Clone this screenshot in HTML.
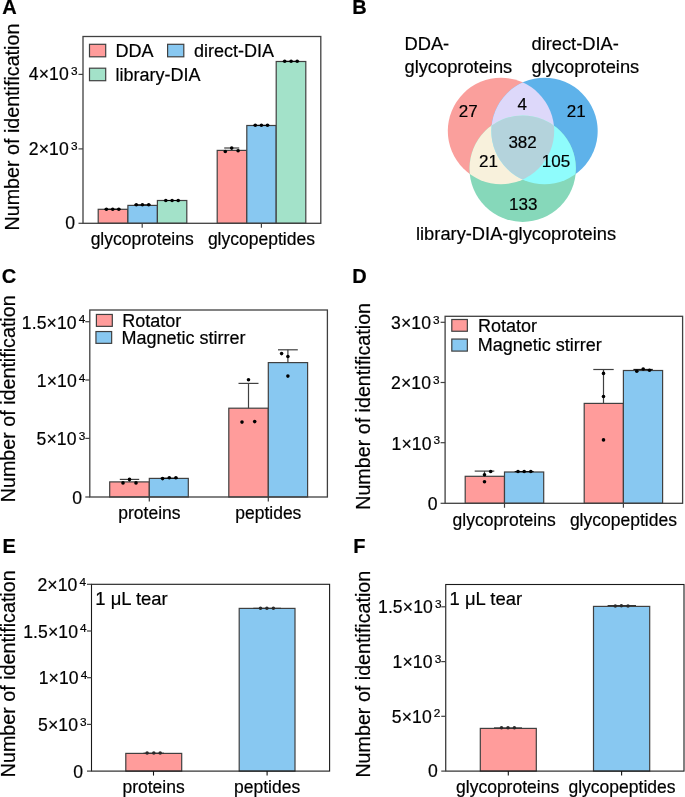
<!DOCTYPE html>
<html><head><meta charset="utf-8"><style>
html,body{margin:0;padding:0;background:#fff;}
svg{display:block;will-change:transform;}
text{font-family:"Liberation Sans", sans-serif;fill:#000;stroke:#000;stroke-width:0.2px;}
</style></head><body>
<svg width="685" height="797" viewBox="0 0 685 797">
<rect width="685" height="797" fill="#fff"/>
<text x="2.2" y="13.9" font-size="20" text-anchor="start" font-weight="bold" >A</text>
<text transform="translate(18.6,230.5) rotate(-90)" x="0" y="0" font-size="19.7">Number of identification</text>
<rect x="98.2" y="209.3" width="29.599999999999994" height="14.0" fill="#FF9C9B" stroke="#404040" stroke-width="1.2"/>
<rect x="127.9" y="205.4" width="29.5" height="17.900000000000006" fill="#88C8F1" stroke="#404040" stroke-width="1.2"/>
<rect x="157.4" y="200.5" width="29.400000000000006" height="22.80000000000001" fill="#A3E2C9" stroke="#404040" stroke-width="1.2"/>
<rect x="217.2" y="150.4" width="29.600000000000023" height="72.9" fill="#FF9C9B" stroke="#404040" stroke-width="1.2"/>
<rect x="246.8" y="125.5" width="29.399999999999977" height="97.80000000000001" fill="#88C8F1" stroke="#404040" stroke-width="1.2"/>
<rect x="276.2" y="61.5" width="29.600000000000023" height="161.8" fill="#A3E2C9" stroke="#404040" stroke-width="1.2"/>
<line x1="104.4" y1="209.2" x2="120.8" y2="209.2" stroke="#000" stroke-width="1.0"/>
<circle cx="106.4" cy="209.2" r="1.8" fill="#000"/>
<circle cx="112.7" cy="209.2" r="1.8" fill="#000"/>
<circle cx="118.8" cy="209.2" r="1.8" fill="#000"/>
<line x1="134.3" y1="204.8" x2="150.7" y2="204.8" stroke="#000" stroke-width="1.0"/>
<circle cx="136.3" cy="204.8" r="1.8" fill="#000"/>
<circle cx="142.4" cy="204.8" r="1.8" fill="#000"/>
<circle cx="148.7" cy="204.8" r="1.8" fill="#000"/>
<line x1="163.8" y1="200.5" x2="180.2" y2="200.5" stroke="#000" stroke-width="1.0"/>
<circle cx="165.8" cy="200.5" r="1.8" fill="#000"/>
<circle cx="172.1" cy="200.5" r="1.8" fill="#000"/>
<circle cx="178.2" cy="200.5" r="1.8" fill="#000"/>
<line x1="253.3" y1="125.3" x2="269.5" y2="125.3" stroke="#000" stroke-width="1.0"/>
<circle cx="255.3" cy="125.3" r="1.8" fill="#000"/>
<circle cx="261.4" cy="125.3" r="1.8" fill="#000"/>
<circle cx="267.5" cy="125.3" r="1.8" fill="#000"/>
<line x1="282.7" y1="61.3" x2="299.2" y2="61.3" stroke="#000" stroke-width="1.0"/>
<circle cx="284.7" cy="61.3" r="1.8" fill="#000"/>
<circle cx="291.1" cy="61.3" r="1.8" fill="#000"/>
<circle cx="297.2" cy="61.3" r="1.8" fill="#000"/>
<line x1="231.7" y1="150.4" x2="231.7" y2="148.0" stroke="#404040" stroke-width="1.2"/>
<line x1="224.2" y1="148.0" x2="239.2" y2="148.0" stroke="#404040" stroke-width="1.2"/>
<circle cx="225.3" cy="151.5" r="1.8" fill="#000"/>
<circle cx="231.7" cy="148.0" r="1.8" fill="#000"/>
<circle cx="238.1" cy="150.7" r="1.8" fill="#000"/>
<rect x="83" y="36.5" width="237.8" height="186.8" fill="none" stroke="#404040" stroke-width="1.3"/>
<line x1="142.2" y1="223.3" x2="142.2" y2="227.8" stroke="#404040" stroke-width="1.2"/>
<line x1="261.4" y1="223.3" x2="261.4" y2="227.8" stroke="#404040" stroke-width="1.2"/>
<line x1="78.5" y1="223.3" x2="83" y2="223.3" stroke="#404040" stroke-width="1.2"/>
<text x="75.0" y="229.3" font-size="17.6" text-anchor="end" font-weight="normal" >0</text>
<line x1="78.5" y1="148.9" x2="83" y2="148.9" stroke="#404040" stroke-width="1.2"/>
<text x="28.85" y="154.9" font-size="17.6" letter-spacing="0.1">2×10<tspan dx="2.0" dy="-5.2" font-size="11.8">3</tspan></text>
<line x1="78.5" y1="74.4" x2="83" y2="74.4" stroke="#404040" stroke-width="1.2"/>
<text x="28.85" y="80.4" font-size="17.6" letter-spacing="0.1">4×10<tspan dx="2.0" dy="-5.2" font-size="11.8">3</tspan></text>
<text x="142.2" y="245.0" font-size="17.5" text-anchor="middle" font-weight="normal" >glycoproteins</text>
<text x="261.4" y="245.0" font-size="17.5" text-anchor="middle" font-weight="normal" >glycopeptides</text>
<rect x="89.5" y="44.3" width="16.2" height="12.5" fill="#FF9C9B" stroke="#404040" stroke-width="1.2"/>
<text x="115.5" y="56.8" font-size="18" text-anchor="start" font-weight="normal" >DDA</text>
<rect x="167.6" y="44.3" width="16.2" height="12.5" fill="#88C8F1" stroke="#404040" stroke-width="1.2"/>
<text x="194.0" y="56.8" font-size="18" text-anchor="start" font-weight="normal" >direct-DIA</text>
<rect x="89.5" y="68.2" width="16.2" height="12.5" fill="#A3E2C9" stroke="#404040" stroke-width="1.2"/>
<text x="115.5" y="80.5" font-size="18" text-anchor="start" font-weight="normal" >library-DIA</text>
<text x="352.2" y="13.8" font-size="20" text-anchor="start" font-weight="bold" >B</text>
<defs><clipPath id="ca"><circle cx="501.0" cy="131.0" r="53.2"/></clipPath><clipPath id="cb"><circle cx="544.5" cy="131.0" r="53.2"/></clipPath><clipPath id="cc"><circle cx="522.7" cy="168.7" r="53.2"/></clipPath></defs>
<circle cx="501.0" cy="131.0" r="53.2" fill="#FA9F9C"/>
<circle cx="544.5" cy="131.0" r="53.2" fill="#5EB2EA"/>
<circle cx="522.7" cy="168.7" r="53.2" fill="#86D8BA"/>
<g clip-path="url(#ca)"><circle cx="544.5" cy="131.0" r="53.2" fill="#DDD8FA"/></g>
<g clip-path="url(#ca)"><circle cx="522.7" cy="168.7" r="53.2" fill="#F8F1DC"/></g>
<g clip-path="url(#cb)"><circle cx="522.7" cy="168.7" r="53.2" fill="#8FFCFC"/></g>
<g clip-path="url(#ca)"><g clip-path="url(#cb)"><circle cx="522.7" cy="168.7" r="53.2" fill="#B4D3DC"/></g></g>
<text x="468.3" y="116.5" font-size="17" text-anchor="middle" font-weight="normal" >27</text>
<text x="522.2" y="110.0" font-size="17" text-anchor="middle" font-weight="normal" >4</text>
<text x="576.2" y="116.5" font-size="17" text-anchor="middle" font-weight="normal" >21</text>
<text x="522.6" y="147.6" font-size="17" text-anchor="middle" font-weight="normal" >382</text>
<text x="488.5" y="166.8" font-size="17" text-anchor="middle" font-weight="normal" >21</text>
<text x="556.0" y="166.8" font-size="17" text-anchor="middle" font-weight="normal" >105</text>
<text x="523.2" y="210.0" font-size="17" text-anchor="middle" font-weight="normal" >133</text>
<text x="404.5" y="50.1" font-size="18.3" text-anchor="start" font-weight="normal" >DDA-</text>
<text x="404.5" y="72.6" font-size="18.3" text-anchor="start" font-weight="normal" >glycoproteins</text>
<text x="531.5" y="50.1" font-size="18.3" text-anchor="start" font-weight="normal" >direct-DIA-</text>
<text x="531.5" y="72.6" font-size="18.3" text-anchor="start" font-weight="normal" >glycoproteins</text>
<text x="416.0" y="239.7" font-size="18.3" text-anchor="start" font-weight="normal" >library-DIA-glycoproteins</text>
<text x="1.8" y="283.3" font-size="20" text-anchor="start" font-weight="bold" >C</text>
<text transform="translate(14.7,502.2) rotate(-90)" x="0" y="0" font-size="19.7">Number of identification</text>
<rect x="109.7" y="481.9" width="39.60000000000001" height="15.100000000000023" fill="#FF9C9B" stroke="#404040" stroke-width="1.2"/>
<rect x="149.3" y="478.4" width="39.0" height="18.600000000000023" fill="#88C8F1" stroke="#404040" stroke-width="1.2"/>
<rect x="228.8" y="408.2" width="39.5" height="88.80000000000001" fill="#FF9C9B" stroke="#404040" stroke-width="1.2"/>
<rect x="268.3" y="362.6" width="39.30000000000001" height="134.39999999999998" fill="#88C8F1" stroke="#404040" stroke-width="1.2"/>
<line x1="129.5" y1="481.9" x2="129.5" y2="479.4" stroke="#404040" stroke-width="1.2"/>
<line x1="119.8" y1="479.4" x2="139.2" y2="479.4" stroke="#404040" stroke-width="1.2"/>
<circle cx="123.0" cy="482.9" r="1.8" fill="#000"/>
<circle cx="129.5" cy="479.4" r="1.8" fill="#000"/>
<circle cx="136.0" cy="482.9" r="1.8" fill="#000"/>
<line x1="160.6" y1="478.2" x2="178" y2="478.2" stroke="#000" stroke-width="1.0"/>
<circle cx="162.6" cy="478.6" r="1.8" fill="#000"/>
<circle cx="169.3" cy="477.8" r="1.8" fill="#000"/>
<circle cx="175.9" cy="477.8" r="1.8" fill="#000"/>
<line x1="248.5" y1="408.2" x2="248.5" y2="383.4" stroke="#404040" stroke-width="1.2"/>
<line x1="238.5" y1="383.4" x2="258.5" y2="383.4" stroke="#404040" stroke-width="1.2"/>
<circle cx="248.5" cy="379.7" r="1.8" fill="#000"/>
<circle cx="242.0" cy="422.1" r="1.8" fill="#000"/>
<circle cx="254.7" cy="421.6" r="1.8" fill="#000"/>
<line x1="287.9" y1="362.6" x2="287.9" y2="349.8" stroke="#404040" stroke-width="1.2"/>
<line x1="278.0" y1="349.8" x2="297.79999999999995" y2="349.8" stroke="#404040" stroke-width="1.2"/>
<circle cx="281.6" cy="353.6" r="1.8" fill="#000"/>
<circle cx="287.9" cy="356.5" r="1.8" fill="#000"/>
<circle cx="287.9" cy="376.1" r="1.8" fill="#000"/>
<rect x="89.8" y="310.0" width="237.59999999999997" height="187.0" fill="none" stroke="#404040" stroke-width="1.3"/>
<line x1="149.3" y1="497.0" x2="149.3" y2="501.5" stroke="#404040" stroke-width="1.2"/>
<line x1="268.3" y1="497.0" x2="268.3" y2="501.5" stroke="#404040" stroke-width="1.2"/>
<line x1="85.3" y1="497.0" x2="89.8" y2="497.0" stroke="#404040" stroke-width="1.2"/>
<text x="82.0" y="503.9" font-size="17.6" text-anchor="end" font-weight="normal" >0</text>
<line x1="85.3" y1="438.4" x2="89.8" y2="438.4" stroke="#404040" stroke-width="1.2"/>
<text x="36.6" y="445.29999999999995" font-size="17.6" letter-spacing="0.1">5×10<tspan dx="2.0" dy="-5.2" font-size="11.8">3</tspan></text>
<line x1="85.3" y1="380.0" x2="89.8" y2="380.0" stroke="#404040" stroke-width="1.2"/>
<text x="36.8" y="386.9" font-size="17.6" letter-spacing="0.1">1×10<tspan dx="2.0" dy="-5.2" font-size="11.8">4</tspan></text>
<line x1="85.3" y1="321.7" x2="89.8" y2="321.7" stroke="#404040" stroke-width="1.2"/>
<text x="21.8" y="328.59999999999997" font-size="17.6" letter-spacing="0.1">1.5×10<tspan dx="2.0" dy="-5.2" font-size="11.8">4</tspan></text>
<text x="149.4" y="518.9" font-size="17.5" text-anchor="middle" font-weight="normal" >proteins</text>
<text x="268.3" y="518.9" font-size="17.5" text-anchor="middle" font-weight="normal" >peptides</text>
<rect x="96.4" y="314.45" width="15.9" height="11.9" fill="#FF9C9B" stroke="#404040" stroke-width="1.2"/>
<text x="122.2" y="326.5" font-size="18" text-anchor="start" font-weight="normal" >Rotator</text>
<rect x="95.95" y="331.55" width="15.7" height="11.8" fill="#88C8F1" stroke="#404040" stroke-width="1.2"/>
<text x="121.5" y="343.5" font-size="18" text-anchor="start" font-weight="normal" >Magnetic stirrer</text>
<text x="352.3" y="283.0" font-size="20" text-anchor="start" font-weight="bold" >D</text>
<text transform="translate(369.6,509.8) rotate(-90)" x="0" y="0" font-size="19.7">Number of identification</text>
<rect x="465.2" y="476.3" width="39.30000000000001" height="27.0" fill="#FF9C9B" stroke="#404040" stroke-width="1.2"/>
<rect x="504.5" y="472.0" width="39.200000000000045" height="31.30000000000001" fill="#88C8F1" stroke="#404040" stroke-width="1.2"/>
<rect x="584.2" y="403.4" width="39.19999999999993" height="99.90000000000003" fill="#FF9C9B" stroke="#404040" stroke-width="1.2"/>
<rect x="623.4" y="370.5" width="39.200000000000045" height="132.8" fill="#88C8F1" stroke="#404040" stroke-width="1.2"/>
<line x1="484.5" y1="476.3" x2="484.5" y2="471.1" stroke="#404040" stroke-width="1.2"/>
<line x1="474.7" y1="471.1" x2="494.3" y2="471.1" stroke="#404040" stroke-width="1.2"/>
<circle cx="484.5" cy="474.7" r="1.8" fill="#000"/>
<circle cx="490.7" cy="471.5" r="1.8" fill="#000"/>
<circle cx="484.5" cy="481.8" r="1.8" fill="#000"/>
<line x1="514.7" y1="471.6" x2="533.7" y2="471.6" stroke="#000" stroke-width="1.0"/>
<circle cx="518.0" cy="471.5" r="1.8" fill="#000"/>
<circle cx="524.2" cy="471.5" r="1.8" fill="#000"/>
<circle cx="530.8" cy="471.5" r="1.8" fill="#000"/>
<line x1="603.5" y1="403.4" x2="603.5" y2="369.5" stroke="#404040" stroke-width="1.2"/>
<line x1="593.3" y1="369.5" x2="613.7" y2="369.5" stroke="#404040" stroke-width="1.2"/>
<circle cx="603.5" cy="373.4" r="1.8" fill="#000"/>
<circle cx="603.5" cy="396.5" r="1.8" fill="#000"/>
<circle cx="603.5" cy="439.9" r="1.8" fill="#000"/>
<line x1="633.4" y1="369.4" x2="652.8" y2="369.4" stroke="#000" stroke-width="1.0"/>
<circle cx="636.8" cy="371.2" r="1.8" fill="#000"/>
<circle cx="643.2" cy="369.0" r="1.8" fill="#000"/>
<circle cx="649.5" cy="370.2" r="1.8" fill="#000"/>
<rect x="445.1" y="316.3" width="237.5" height="187.0" fill="none" stroke="#404040" stroke-width="1.3"/>
<line x1="504.5" y1="503.3" x2="504.5" y2="507.8" stroke="#404040" stroke-width="1.2"/>
<line x1="623.4" y1="503.3" x2="623.4" y2="507.8" stroke="#404040" stroke-width="1.2"/>
<line x1="440.6" y1="503.3" x2="445.1" y2="503.3" stroke="#404040" stroke-width="1.2"/>
<text x="437.5" y="510.2" font-size="17.6" text-anchor="end" font-weight="normal" >0</text>
<line x1="440.6" y1="442.7" x2="445.1" y2="442.7" stroke="#404040" stroke-width="1.2"/>
<text x="391.5" y="449.59999999999997" font-size="17.6" letter-spacing="0.1">1×10<tspan dx="2.0" dy="-5.2" font-size="11.8">3</tspan></text>
<line x1="440.6" y1="382.5" x2="445.1" y2="382.5" stroke="#404040" stroke-width="1.2"/>
<text x="391.0" y="389.4" font-size="17.6" letter-spacing="0.1">2×10<tspan dx="2.0" dy="-5.2" font-size="11.8">3</tspan></text>
<line x1="440.6" y1="322.3" x2="445.1" y2="322.3" stroke="#404040" stroke-width="1.2"/>
<text x="391.0" y="329.2" font-size="17.6" letter-spacing="0.1">3×10<tspan dx="2.0" dy="-5.2" font-size="11.8">3</tspan></text>
<text x="504.1" y="525.7" font-size="17.5" text-anchor="middle" font-weight="normal" >glycoproteins</text>
<text x="623.4" y="525.7" font-size="17.5" text-anchor="middle" font-weight="normal" >glycopeptides</text>
<rect x="451.8" y="319.5" width="15.55" height="11.75" fill="#FF9C9B" stroke="#404040" stroke-width="1.2"/>
<text x="478.0" y="331.5" font-size="18" text-anchor="start" font-weight="normal" >Rotator</text>
<rect x="451.8" y="339.05" width="15.55" height="12.05" fill="#88C8F1" stroke="#404040" stroke-width="1.2"/>
<text x="477.8" y="351.2" font-size="18" text-anchor="start" font-weight="normal" >Magnetic stirrer</text>
<text x="2.6" y="552.7" font-size="20" text-anchor="start" font-weight="bold" >E</text>
<text transform="translate(14.5,777.2) rotate(-90)" x="0" y="0" font-size="19.7">Number of identification</text>
<rect x="125.8" y="753.4" width="55.89999999999999" height="17.700000000000045" fill="#FF9C9B" stroke="#404040" stroke-width="1.2"/>
<rect x="239.2" y="608.4" width="55.80000000000001" height="162.70000000000005" fill="#88C8F1" stroke="#404040" stroke-width="1.2"/>
<line x1="143.5" y1="753.2" x2="164.0" y2="753.2" stroke="#333" stroke-width="1.1"/>
<circle cx="147.1" cy="753.0" r="1.75" fill="#2a2a2a"/>
<circle cx="153.8" cy="753.0" r="1.75" fill="#2a2a2a"/>
<circle cx="160.2" cy="753.0" r="1.75" fill="#2a2a2a"/>
<line x1="253.3" y1="608.3" x2="281.0" y2="608.3" stroke="#333" stroke-width="1.1"/>
<circle cx="260.5" cy="608.3" r="1.75" fill="#2a2a2a"/>
<circle cx="266.9" cy="608.3" r="1.75" fill="#2a2a2a"/>
<circle cx="273.4" cy="608.3" r="1.75" fill="#2a2a2a"/>
<rect x="91.5" y="584.3" width="238.10000000000002" height="186.80000000000007" fill="none" stroke="#1a1a1a" stroke-width="1.1"/>
<line x1="153.5" y1="771.1" x2="153.5" y2="775.6" stroke="#111" stroke-width="1.1"/>
<line x1="267.1" y1="771.1" x2="267.1" y2="775.6" stroke="#111" stroke-width="1.1"/>
<line x1="87.0" y1="771.1" x2="91.5" y2="771.1" stroke="#404040" stroke-width="1.2"/>
<text x="83.1" y="777.7" font-size="17.6" text-anchor="end" font-weight="normal" >0</text>
<line x1="87.0" y1="724.4" x2="91.5" y2="724.4" stroke="#404040" stroke-width="1.2"/>
<text x="38.0" y="731.0" font-size="17.6" letter-spacing="0.1">5×10<tspan dx="2.0" dy="-5.2" font-size="11.8">3</tspan></text>
<line x1="87.0" y1="677.7" x2="91.5" y2="677.7" stroke="#404040" stroke-width="1.2"/>
<text x="38.7" y="684.3000000000001" font-size="17.6" letter-spacing="0.1">1×10<tspan dx="2.0" dy="-5.2" font-size="11.8">4</tspan></text>
<line x1="87.0" y1="631.0" x2="91.5" y2="631.0" stroke="#404040" stroke-width="1.2"/>
<text x="23.2" y="637.6" font-size="17.6" letter-spacing="0.1">1.5×10<tspan dx="2.0" dy="-5.2" font-size="11.8">4</tspan></text>
<line x1="87.0" y1="584.3" x2="91.5" y2="584.3" stroke="#404040" stroke-width="1.2"/>
<text x="37.4" y="590.9" font-size="17.6" letter-spacing="0.1">2×10<tspan dx="2.0" dy="-5.2" font-size="11.8">4</tspan></text>
<text x="95.3" y="604.5" font-size="18.45" text-anchor="start" font-weight="normal" >1 μL tear</text>
<text x="153.6" y="792.6" font-size="17.5" text-anchor="middle" font-weight="normal" >proteins</text>
<text x="267.1" y="792.6" font-size="17.5" text-anchor="middle" font-weight="normal" >peptides</text>
<text x="353.3" y="552.7" font-size="20" text-anchor="start" font-weight="bold" >F</text>
<text transform="translate(369.6,777.6) rotate(-90)" x="0" y="0" font-size="19.7">Number of identification</text>
<rect x="480.3" y="728.4" width="55.99999999999994" height="42.700000000000045" fill="#FF9C9B" stroke="#404040" stroke-width="1.2"/>
<rect x="593.5" y="606.4" width="56.200000000000045" height="164.70000000000005" fill="#88C8F1" stroke="#404040" stroke-width="1.2"/>
<line x1="494.0" y1="727.9" x2="522.0" y2="727.9" stroke="#333" stroke-width="1.1"/>
<circle cx="501.5" cy="727.7" r="1.75" fill="#2a2a2a"/>
<circle cx="508.0" cy="727.7" r="1.75" fill="#2a2a2a"/>
<circle cx="514.4" cy="727.7" r="1.75" fill="#2a2a2a"/>
<line x1="607.6" y1="605.6" x2="636.0" y2="605.6" stroke="#333" stroke-width="1.2"/>
<circle cx="615.3" cy="606.0" r="1.75" fill="#2a2a2a"/>
<circle cx="621.4" cy="605.8" r="1.75" fill="#2a2a2a"/>
<circle cx="628.0" cy="606.0" r="1.75" fill="#2a2a2a"/>
<rect x="445.75" y="584.5" width="238.25" height="186.60000000000002" fill="none" stroke="#1a1a1a" stroke-width="1.1"/>
<line x1="508.3" y1="771.1" x2="508.3" y2="775.6" stroke="#111" stroke-width="1.1"/>
<line x1="621.6" y1="771.1" x2="621.6" y2="775.6" stroke="#111" stroke-width="1.1"/>
<line x1="441.25" y1="771.1" x2="445.75" y2="771.1" stroke="#404040" stroke-width="1.2"/>
<text x="437.9" y="777.3000000000001" font-size="17.6" text-anchor="end" font-weight="normal" >0</text>
<line x1="441.25" y1="716.3" x2="445.75" y2="716.3" stroke="#404040" stroke-width="1.2"/>
<text x="391.8" y="722.5" font-size="17.6" letter-spacing="0.1">5×10<tspan dx="2.0" dy="-5.2" font-size="11.8">2</tspan></text>
<line x1="441.25" y1="661.6" x2="445.75" y2="661.6" stroke="#404040" stroke-width="1.2"/>
<text x="392.6" y="667.8000000000001" font-size="17.6" letter-spacing="0.1">1×10<tspan dx="2.0" dy="-5.2" font-size="11.8">3</tspan></text>
<line x1="441.25" y1="606.8" x2="445.75" y2="606.8" stroke="#404040" stroke-width="1.2"/>
<text x="378.0" y="613.0" font-size="17.6" letter-spacing="0.1">1.5×10<tspan dx="2.0" dy="-5.2" font-size="11.8">3</tspan></text>
<text x="449.6" y="604.9" font-size="18.45" text-anchor="start" font-weight="normal" >1 μL tear</text>
<text x="507.6" y="793.1" font-size="17.5" text-anchor="middle" font-weight="normal" >glycoproteins</text>
<text x="622.0" y="793.4" font-size="17.5" text-anchor="middle" font-weight="normal" >glycopeptides</text>
</svg>
</body></html>
